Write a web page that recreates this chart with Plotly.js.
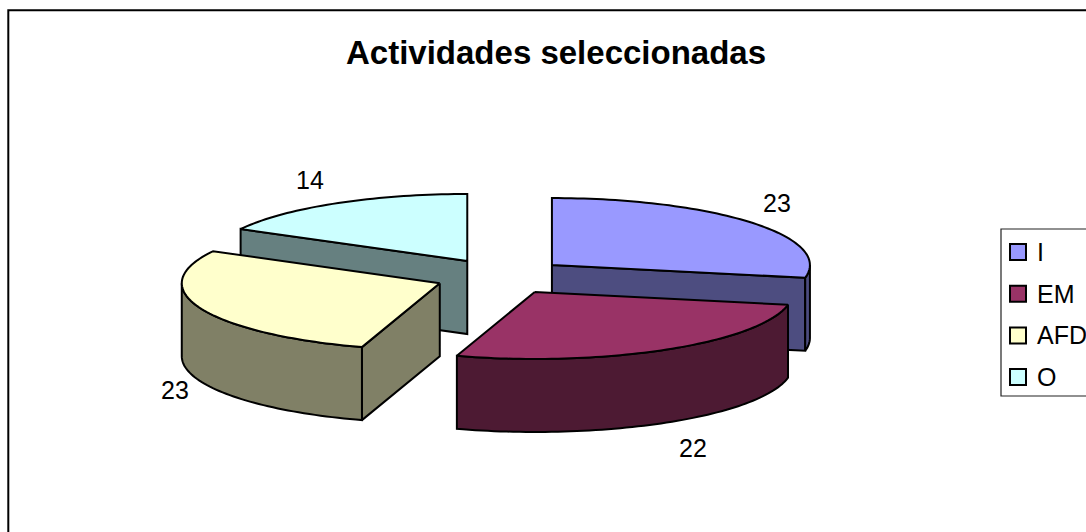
<!DOCTYPE html>
<html><head><meta charset="utf-8">
<script src="https://cdn.plot.ly/plotly-3.0.1.min.js"></script>
<style>html,body{margin:0;padding:0;background:#fff;overflow:hidden}#c{width:1086px;height:532px}</style>
</head><body><div id="c"></div>
<script>
const chartTitle = "Actividades seleccionadas";
const categories = ["I", "EM", "AFD", "O"];
const values = [23, 22, 23, 14];
const topColors = ["#9999ff", "#993366", "#ffffcc", "#ccffff"];
const sideColors = ["#4d4d80", "#4d1a33", "#808066", "#668080"];

// projection of the tilted pie onto the canvas
const cx = 501, cy = 276.5, rx = 258, ry = 67, depth = 73, popX = 66, popY = 18;
const labelPos = [[777, 203], [693, 448], [175, 390], [310, 180]];
const total = values.reduce((a, b) => a + b, 0);

let acc = 0;
const slices = values.map((v, i) => {
  const a0 = acc / total * 2 * Math.PI; acc += v;
  const a1 = acc / total * 2 * Math.PI;
  const m = (a0 + a1) / 2;
  return {i, a0, a1, ax: cx + popX * Math.sin(m), ay: cy - popY * Math.cos(m)};
});
const pt = (s, a) => [s.ax + rx * Math.sin(a), s.ay - ry * Math.cos(a)];
function arc(s, a0, a1) {
  const n = Math.max(2, Math.ceil(Math.abs(a1 - a0) * 40)), out = [];
  for (let k = 0; k <= n; k++) out.push(pt(s, a0 + (a1 - a0) * k / n));
  return out;
}
function poly(points, fill, name) {
  const x = points.map(p => p[0]), y = points.map(p => p[1]);
  x.push(x[0]); y.push(y[0]);
  return {type: "scatter", mode: "lines", x, y, fill: "toself", fillcolor: fill, name,
          line: {color: "#000", width: 2, simplify: false}, hoverinfo: "name", showlegend: false};
}
const drop = p => [p[0], p[1] + depth];
function radial(s, a) {
  const p = pt(s, a), c = [s.ax, s.ay];
  return [c, p, drop(p), drop(c)];
}
function outer(s, a0, a1) {
  const e = arc(s, a0, a1);
  return e.concat(e.slice().reverse().map(drop));
}
function sliceTraces(s) {
  const t = [], name = categories[s.i], col = sideColors[s.i];
  const sw = Math.PI * 0.5, lw = Math.PI * 1.5;
  // cut faces that turn toward the viewer
  if (s.a1 > 0 && s.a1 < Math.PI) t.push(poly(radial(s, s.a1), col, name));
  if (s.a0 > Math.PI && s.a0 < 2 * Math.PI) t.push(poly(radial(s, s.a0), col, name));
  // curved rim on the front half
  const lo = Math.max(s.a0, sw), hi = Math.min(s.a1, lw);
  if (hi > lo) t.push(poly(outer(s, lo, hi), col, name));
  const rim = arc(s, s.a0, s.a1);
  t.push(poly([[s.ax, s.ay]].concat(rim), topColors[s.i], name));
  return t;
}
const order = [3, 0, 2, 1];
const data = [];
order.forEach(i => data.push(...sliceTraces(slices[i])));

// legend swatches
const legX = 1018, legY0 = 252, legStep = 41.7;
data.push({type: "scatter", mode: "markers", hoverinfo: "skip", showlegend: false,
  x: categories.map(() => legX), y: categories.map((c, i) => legY0 + i * legStep),
  marker: {symbol: "square", size: 16, color: topColors, line: {color: "#000", width: 2}}});

const font = "Liberation Sans, Arial, sans-serif";
const annotations = [
  {x: 556, y: 52, text: "<b>" + chartTitle + "</b>", font: {family: font, size: 33, color: "#000"}}
].concat(values.map((v, i) => ({x: labelPos[i][0], y: labelPos[i][1], text: String(v),
  font: {family: font, size: 25, color: "#000"}})))
 .concat(categories.map((c, i) => ({x: 1037, y: legY0 + i * legStep, text: c, xanchor: "left",
  font: {family: font, size: 25, color: "#000"}})));
annotations.forEach(a => { a.showarrow = false; a.xref = "x"; a.yref = "y"; if (!a.xanchor) a.xanchor = "center"; a.yanchor = "middle"; a.borderpad = 0; a.borderwidth = 0; });

const layout = {
  width: 1086, height: 532, margin: {l: 0, r: 0, t: 0, b: 0}, showlegend: false,
  paper_bgcolor: "#fff", plot_bgcolor: "#fff",
  xaxis: {range: [0, 1086], visible: false, fixedrange: true},
  yaxis: {range: [532, 0], visible: false, fixedrange: true},
  annotations,
  shapes: [
    {type: "rect", xref: "x", yref: "y", x0: 8.3, y0: 10.3, x1: 1100, y1: 560, line: {color: "#000", width: 2}, fillcolor: "rgba(0,0,0,0)", layer: "below"},
    {type: "rect", xref: "x", yref: "y", x0: 1001, y0: 229, x1: 1100, y1: 396, line: {color: "#222", width: 1.2}, fillcolor: "#fff", layer: "below"}
  ]
};
Plotly.newPlot("c", data, layout, {displayModeBar: false, staticPlot: true});
</script></body></html>
